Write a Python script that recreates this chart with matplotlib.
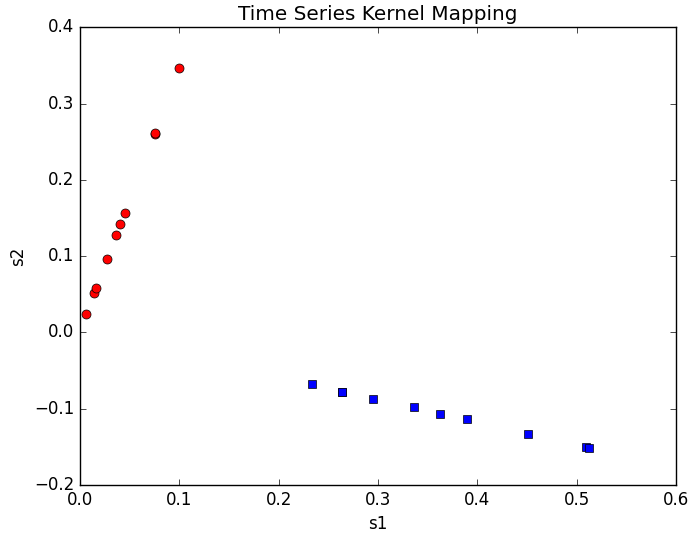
import matplotlib
matplotlib.use('Agg')
import matplotlib.pyplot as plt

plt.style.use('classic')

# class 1 (red circles)
s1_red = [0.0057, 0.0141, 0.0164, 0.0275, 0.0366, 0.0406, 0.045, 0.0752, 0.0758, 0.100]
s2_red = [0.024, 0.052, 0.058, 0.0965, 0.1275, 0.142, 0.156, 0.260, 0.262, 0.346]

# class 2 (blue squares)
s1_blue = [0.2336, 0.2634, 0.2640, 0.2953, 0.3366, 0.363, 0.3895, 0.451, 0.510, 0.5127]
s2_blue = [-0.0673, -0.0778, -0.0782, -0.0874, -0.0983, -0.1075, -0.114, -0.1333, -0.1507, -0.1516]

fig = plt.figure(figsize=(6.91, 5.34), dpi=100, facecolor='white')
ax = fig.add_subplot(111)
fig.subplots_adjust(left=0.1158, right=0.978, top=0.949, bottom=0.0918)

ax.plot(s1_red, s2_red, 'ro', markersize=6.5)
ax.plot(s1_blue, s2_blue, 'bs', markersize=6.2)

ax.set_xlim(0, 0.6)
ax.set_ylim(-0.2, 0.4)
ax.set_title('Time Series Kernel Mapping')
ax.set_xlabel('s1')
ax.set_ylabel('s2')

fig.savefig('out.png', dpi=100, facecolor='white')
